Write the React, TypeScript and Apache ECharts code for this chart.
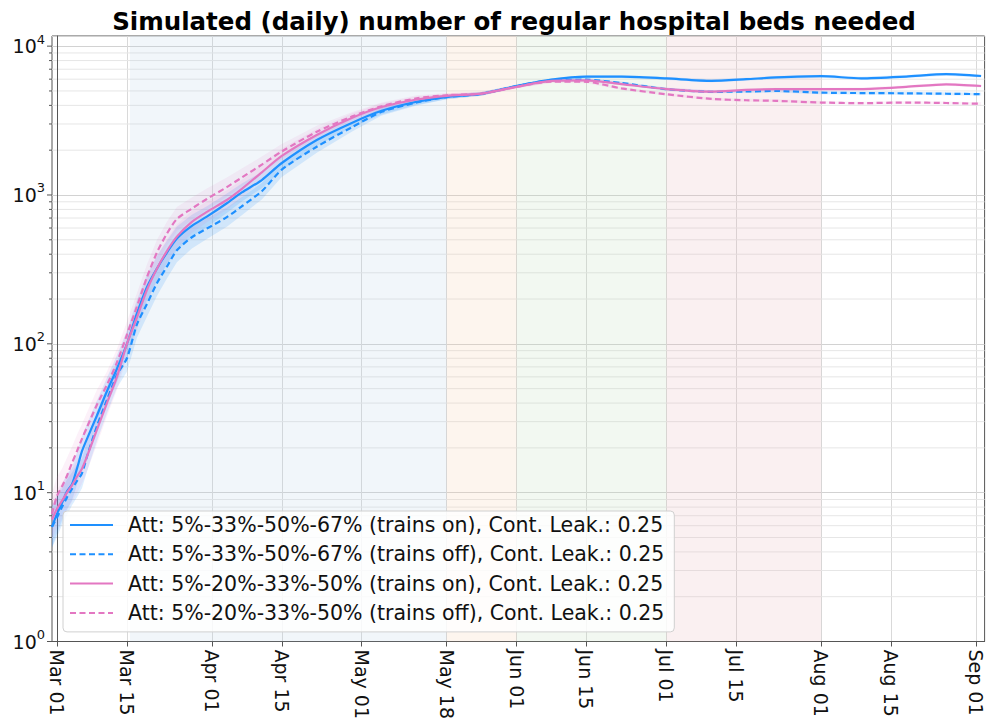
import React, { useEffect, useRef } from 'react';
import * as echarts from 'echarts';

const FONT = 'DejaVu Sans';

// day offsets from 2020-03-01
const DAYS = [-1, 0, 1, 2, 3, 4, 5, 6, 8, 10, 12, 14, 16, 18, 20, 22, 24, 27, 30, 34, 37, 41, 45, 52, 59, 65, 72, 78, 85, 92, 99, 106, 113, 122, 131, 138, 144, 153, 161, 170, 178, 185];

const BLUE_ON = [5.9, 7.2, 8.5, 10.2, 11.4, 14.5, 19, 23, 33, 48, 68, 100, 160, 240, 320, 410, 510, 620, 715, 880, 1040, 1260, 1640, 2340, 3050, 3680, 4230, 4550, 4780, 5390, 5950, 6240, 6250, 6070, 5850, 6000, 6160, 6280, 6080, 6250, 6480, 6300];
const BLUE_OFF = [5.9, 6.8, 8.0, 9.3, 10.6, 12, 13.5, 17.5, 28, 42, 62, 80, 135, 185, 255, 330, 425, 520, 595, 710, 840, 1060, 1480, 2110, 2850, 3620, 4180, 4550, 4780, 5390, 5900, 5950, 5650, 5140, 4930, 4960, 5000, 4870, 4840, 4820, 4790, 4760];
const PINK_ON = [6.6, 7.8, 8.8, 10, 11.2, 12.8, 14.5, 17.5, 26.5, 40, 60, 100, 150, 230, 320, 420, 525, 660, 770, 925, 1100, 1420, 1830, 2530, 3290, 3900, 4380, 4640, 4800, 5330, 5840, 5880, 5560, 5150, 4950, 5080, 5140, 5140, 5150, 5330, 5540, 5400];
const PINK_OFF = [7.2, 9.5, 11, 13, 15.8, 19, 23, 27.5, 39, 53, 75, 115, 178, 280, 410, 550, 690, 810, 940, 1130, 1310, 1600, 1960, 2660, 3360, 3950, 4460, 4680, 4800, 5330, 5780, 5760, 5200, 4750, 4420, 4330, 4290, 4180, 4140, 4180, 4150, 4100];
// half width of the uncertainty bands, in decades (log10)
const BAND_DEX = [0.14, 0.13, 0.12, 0.12, 0.11, 0.11, 0.1, 0.1, 0.1, 0.09, 0.09, 0.09, 0.09, 0.085, 0.085, 0.08, 0.08, 0.075, 0.07, 0.065, 0.06, 0.055, 0.05, 0.04, 0.03, 0.025, 0.02, 0.015, 0.012, 0.01, 0.01, 0.01, 0.01, 0.01, 0.01, 0.01, 0.01, 0.01, 0.01, 0.01, 0.01, 0.01];

const SERIES_NAMES = [
  'Att: 5%-33%-50%-67% (trains on), Cont. Leak.: 0.25',
  'Att: 5%-33%-50%-67% (trains off), Cont. Leak.: 0.25',
  'Att: 5%-20%-33%-50% (trains on), Cont. Leak.: 0.25',
  'Att: 5%-20%-33%-50% (trains off), Cont. Leak.: 0.25',
];

const TICK_DAYS = [0, 14, 31, 45, 61, 78, 92, 106, 122, 136, 153, 167, 184];
const TICK_LABELS = ['Mar 01', 'Mar 15', 'Apr 01', 'Apr 15', 'May 01', 'May 18', 'Jun 01', 'Jun 15', 'Jul 01', 'Jul 15', 'Aug 01', 'Aug 15', 'Sep 01'];

const Y_MAJOR = [1, 10, 100, 1000, 10000];
const Y_MAJOR_EXP = ['0', '1', '2', '3', '4'];
const Y_MINOR = [2, 3, 4, 5, 6, 7, 8, 9, 20, 30, 40, 50, 60, 70, 80, 90, 200, 300, 400, 500, 600, 700, 800, 900, 2000, 3000, 4000, 5000, 6000, 7000, 8000, 9000];

const PHASE_START = [14.6, 78, 92, 122];
const PHASE_END = [78, 92, 122, 153];
const PHASE_COLORS = ['rgba(185,210,230,0.2)', 'rgba(245,205,170,0.2)', 'rgba(190,220,185,0.2)', 'rgba(230,180,185,0.2)'];

const X_MIN = -1;
const X_MAX = 185.7;
const Y_MIN = 1;
const Y_MAX = 11700;

const BLUE = '#1e90ff';
const PINK = '#e377c2';

function bandSeries(vals: number[], color: string) {
  return {
    type: 'custom',
    silent: true,
    z: 2,
    data: [[DAYS[0], vals[0]]],
    renderItem: (params: any, api: any) => {
      const upper = DAYS.map((d, i) => api.coord([d, vals[i] * Math.pow(10, BAND_DEX[i])]));
      const lower = DAYS.map((d, i) => api.coord([d, vals[i] / Math.pow(10, BAND_DEX[i])])).reverse();
      return {
        type: 'polygon',
        silent: true,
        shape: { points: upper.concat(lower) },
        style: { fill: color, stroke: null },
      };
    },
  };
}

function lineSeries(name: string, vals: number[], color: string, dashed: boolean) {
  return {
    type: 'line',
    name,
    z: 3,
    symbol: 'none',
    smooth: 0.25,
    silent: true,
    data: DAYS.map((d, i) => [d, vals[i]]),
    lineStyle: { color, width: 2.2, type: dashed ? [6, 3.5] : 'solid' },
    itemStyle: { color },
  };
}

export default function App() {
  const ref = useRef<HTMLDivElement>(null);
  useEffect(() => {
    const chart = echarts.init(ref.current!, null, { renderer: 'svg' });
    const option: any = {
      animation: false,
      graphic: [
        {
          type: 'text',
          x: 514,
          y: 21,
          style: {
            text: 'Simulated (daily) number of regular hospital beds needed',
            font: `bold 24.5px "${FONT}"`,
            fill: '#000',
            textAlign: 'center',
            textVerticalAlign: 'middle',
          },
        },
      ],
      grid: {
        left: 52,
        top: 36,
        width: 932.6,
        height: 606,
        show: true,
        borderColor: '#555',
        borderWidth: 1,
        backgroundColor: 'transparent',
      },
      legend: {
        orient: 'vertical',
        left: 63,
        top: 511,
        data: SERIES_NAMES,
        itemWidth: 43,
        itemHeight: 14,
        itemGap: 7.3,
        padding: [3, 10, 8, 6],
        backgroundColor: 'rgba(255,255,255,0.82)',
        borderColor: '#d0d0d0',
        borderWidth: 1,
        borderRadius: 4,
        selectedMode: false,
        itemStyle: { opacity: 0, borderWidth: 0 },
        textStyle: { fontSize: 20.5, fontFamily: FONT, color: '#111', padding: [0, 0, 0, 10], lineHeight: 22 },
      },
      xAxis: {
        type: 'value',
        min: X_MIN,
        max: X_MAX,
        axisLine: { show: true, lineStyle: { color: '#555', width: 1 } },
        axisTick: { show: true, customValues: TICK_DAYS, length: 5, lineStyle: { color: '#555' } },
        axisLabel: {
          customValues: TICK_DAYS,
          rotate: -90,
          margin: 8,
          fontSize: 19,
          fontFamily: FONT,
          color: '#111',
          padding: [0, 0, 6, 0],
          formatter: (v: number) => {
            const i = TICK_DAYS.indexOf(Math.round(v));
            return i >= 0 ? TICK_LABELS[i] : '';
          },
        },
        splitLine: { show: true, lineStyle: { color: '#d9d9d9', width: 1 } },
      },
      yAxis: {
        type: 'log',
        logBase: 10,
        min: Y_MIN,
        max: Y_MAX,
        axisLine: { show: true, lineStyle: { color: '#555', width: 1 } },
        axisTick: { show: false },
        splitLine: { show: true, lineStyle: { color: '#d2d2d2', width: 1 } },
        axisLabel: {
          margin: 7,
          fontFamily: FONT,
          color: '#111',
          formatter: (v: number) => {
            const i = Y_MAJOR.findIndex((m) => Math.abs(m - v) / m < 1e-6);
            return i >= 0 ? `{b|10}{s|${Y_MAJOR_EXP[i]}}` : '';
          },
          rich: {
            b: { fontSize: 19, fontFamily: FONT, color: '#111' },
            s: { fontSize: 13, fontFamily: FONT, color: '#111', padding: [0, 0, 14, 0] },
          },
        },
      },
      series: [
        {
          type: 'custom',
          silent: true,
          z: 0,
          data: [[X_MIN, Y_MIN]],
          renderItem: (params: any, api: any) => {
            const cs = params.coordSys;
            const children: any[] = [];
            Y_MINOR.forEach((v) => {
              const y = api.coord([X_MIN, v])[1];
              children.push({ type: 'line', silent: true, shape: { x1: cs.x, y1: y, x2: cs.x + cs.width, y2: y }, style: { stroke: '#e6e6e6', lineWidth: 1 } });
              children.push({ type: 'line', silent: true, shape: { x1: cs.x - 3, y1: y, x2: cs.x, y2: y }, style: { stroke: '#555', lineWidth: 1 } });
            });
            Y_MAJOR.forEach((v) => {
              const y = api.coord([X_MIN, v])[1];
              children.push({ type: 'line', silent: true, shape: { x1: cs.x - 5, y1: y, x2: cs.x, y2: y }, style: { stroke: '#555', lineWidth: 1 } });
            });
            return { type: 'group', children };
          },
        },
        {
          type: 'line',
          name: 'phases',
          symbol: 'none',
          silent: true,
          z: 1,
          data: [[X_MIN, Y_MIN]],
          lineStyle: { width: 0, opacity: 0 },
          markArea: {
            silent: true,
            data: PHASE_START.map((s, i) => [
              { xAxis: s, itemStyle: { color: PHASE_COLORS[i], borderWidth: 0 } },
              { xAxis: PHASE_END[i] },
            ]),
          },
        },
        bandSeries(BLUE_ON, 'rgba(30,144,255,0.15)'),
        bandSeries(BLUE_OFF, 'rgba(30,144,255,0.15)'),
        bandSeries(PINK_ON, 'rgba(227,119,194,0.1)'),
        bandSeries(PINK_OFF, 'rgba(227,119,194,0.1)'),
        lineSeries(SERIES_NAMES[0], BLUE_ON, BLUE, false),
        lineSeries(SERIES_NAMES[1], BLUE_OFF, BLUE, true),
        lineSeries(SERIES_NAMES[2], PINK_ON, PINK, false),
        lineSeries(SERIES_NAMES[3], PINK_OFF, PINK, true),
      ],
    };
    chart.setOption(option);
    return () => chart.dispose();
  }, []);
  return <div ref={ref} style={{ width: 990, height: 722, position: 'absolute', left: 0, top: 0 }} />;
}
